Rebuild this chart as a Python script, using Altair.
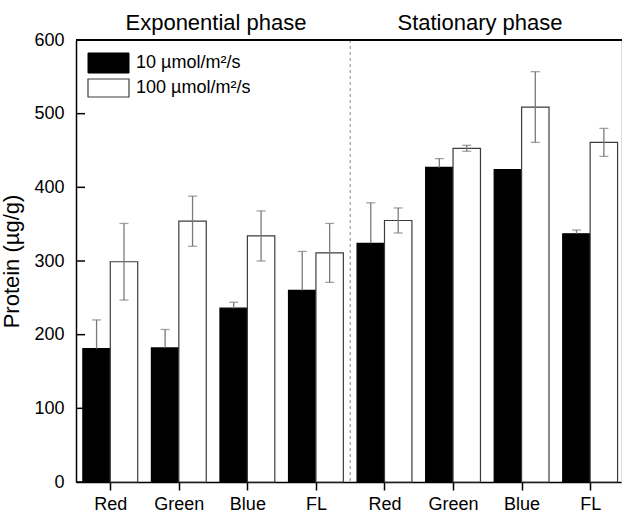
import altair as alt
import pandas as pd

# ---- data ----
categories = ["Red", "Green", "Blue", "FL"]
phases = ["Exponential phase", "Stationary phase"]
series = ["10 µmol/m²/s", "100 µmol/m²/s"]

low_exp = [181, 182, 236, 260]
low_exp_err = [39, 25, 8, 53]
low_sta = [324, 427, 424, 337]
low_sta_err = [55, 12, 0, 5]

high_exp = [299, 354, 334, 311]
high_exp_err = [52, 34, 34, 40]
high_sta = [355, 453, 509, 461]
high_sta_err = [17, 4, 48, 19]

y_ticks = [0, 100, 200, 300, 400, 500, 600]

FONT = "Liberation Sans"
W, H = 545, 442
BAR = 0.4

rows = []
for p, (lo, loe, hi, hie) in enumerate([
    (low_exp, low_exp_err, high_exp, high_exp_err),
    (low_sta, low_sta_err, high_sta, high_sta_err),
]):
    for c, cat in enumerate(categories):
        i = p * 4 + c
        rows.append(dict(idx=i, cat=cat, phase=phases[p], series=series[0],
                         v=lo[c], e=loe[c], x0=i - BAR, x1=i, xc=i - BAR / 2,
                         elo=lo[c], ehi=lo[c] + loe[c]))
        rows.append(dict(idx=i, cat=cat, phase=phases[p], series=series[1],
                         v=hi[c], e=hie[c], x0=i, x1=i + BAR, xc=i + BAR / 2,
                         elo=hi[c] - hie[c], ehi=hi[c] + hie[c]))
df = pd.DataFrame(rows)

label_expr = "[" + ",".join(f"'{c}'" for c in categories) + "][datum.value % 4]"

xscale = alt.Scale(domain=[-0.5, 7.45], nice=False, zero=False, padding=0)
yscale = alt.Scale(domain=[0, 600], nice=False, padding=0)

x_axis = alt.Axis(values=list(range(8)), labelExpr=label_expr, title=None,
                  grid=False, tickSize=8, tickWidth=1.5, tickColor="black",
                  domainColor="black", domainWidth=1.5, labelFontSize=18,
                  labelFont=FONT, labelColor="black", labelPadding=5)
y_axis = alt.Axis(values=y_ticks, title="Protein (µg/g)", grid=False,
                  ticks=False, domainColor="black", domainWidth=1.5,
                  labelFontSize=18, labelFont=FONT, labelColor="black",
                  labelPadding=12, titleFontSize=22, titleFont=FONT,
                  titleFontWeight="normal", titleColor="black", titlePadding=10)

base = alt.Chart(df)

bars = base.mark_bar(strokeWidth=1.2).encode(
    x=alt.X("x0:Q", scale=xscale, axis=x_axis),
    x2="x1:Q",
    y=alt.Y("v:Q", scale=yscale, axis=y_axis),
    y2=alt.datum(0),
    fill=alt.Fill("series:N", scale=alt.Scale(domain=series, range=["#000000", "#ffffff"]), legend=None),
    stroke=alt.Stroke("series:N", scale=alt.Scale(domain=series, range=["#000000", "#3c3c3c"]), legend=None),
)

err = base.transform_filter("datum.e > 0").mark_rule(color="#7a7a7a", strokeWidth=1.3).encode(
    x=alt.X("xc:Q", scale=xscale), y=alt.Y("elo:Q", scale=yscale), y2="ehi:Q"
)
cap_top = base.transform_filter("datum.e > 0").mark_tick(
    orient="horizontal", color="#7a7a7a", size=9, thickness=1.3
).encode(x=alt.X("xc:Q", scale=xscale), y=alt.Y("ehi:Q", scale=yscale))
cap_bot = base.transform_filter(f"datum.e > 0 && datum.series == '{series[1]}'").mark_tick(
    orient="horizontal", color="#7a7a7a", size=9, thickness=1.3
).encode(x=alt.X("xc:Q", scale=xscale), y=alt.Y("elo:Q", scale=yscale))

# dashed separator between the two phases
sep_df = pd.DataFrame({"xs": [3.5]})
sep = alt.Chart(sep_df).mark_rule(color="#8a8a8a", strokeDash=[3, 3], strokeWidth=1).encode(
    x=alt.X("xs:Q", scale=xscale), y=alt.value(0), y2=alt.value(H)
)

# inward y ticks
yt_df = pd.DataFrame({"t": y_ticks})
yt = alt.Chart(yt_df).mark_rule(color="black", strokeWidth=1.5).encode(
    y=alt.Y("t:Q", scale=yscale), x=alt.value(0), x2=alt.value(9)
)

# top frame line
top = alt.Chart(pd.DataFrame({"t": [600]})).mark_rule(color="black", strokeWidth=2).encode(
    y=alt.Y("t:Q", scale=yscale), x=alt.value(0), x2=alt.value(W + 2)
)

# phase titles
t1 = alt.Chart(pd.DataFrame({"s": [phases[0]]})).mark_text(
    font=FONT, fontSize=22, color="black", align="center", baseline="alphabetic"
).encode(text="s:N", x=alt.value(140), y=alt.value(-10))
t2 = alt.Chart(pd.DataFrame({"s": [phases[1]]})).mark_text(
    font=FONT, fontSize=22, color="black", align="center", baseline="alphabetic"
).encode(text="s:N", x=alt.value(404), y=alt.value(-10))

# manual legend
leg_black = alt.Chart(pd.DataFrame({"s": [series[0]]})).mark_rect(
    fill="black", stroke="black", strokeWidth=1
).encode(x=alt.value(12), x2=alt.value(53), y=alt.value(13), y2=alt.value(33))
leg_white = alt.Chart(pd.DataFrame({"s": [series[1]]})).mark_rect(
    fill="white", stroke="#3c3c3c", strokeWidth=1.2
).encode(x=alt.value(12), x2=alt.value(53), y=alt.value(39), y2=alt.value(57))
leg_t1 = alt.Chart(pd.DataFrame({"s": [series[0]]})).mark_text(
    font=FONT, fontSize=18, color="black", align="left", baseline="middle"
).encode(text="s:N", x=alt.value(60), y=alt.value(23))
leg_t2 = alt.Chart(pd.DataFrame({"s": [series[1]]})).mark_text(
    font=FONT, fontSize=18, color="black", align="left", baseline="middle"
).encode(text="s:N", x=alt.value(60), y=alt.value(48))

chart = alt.layer(
    bars, err, cap_top, cap_bot, sep, yt, top, t1, t2,
    leg_black, leg_white, leg_t1, leg_t2
).properties(
    width=W, height=H,
    autosize=alt.AutoSizeParams(type="none"),
    padding={"left": 76, "top": 40, "right": 1, "bottom": 32},
).configure_view(stroke=None).configure(background="white")

chart.save("out.html", embed_options={"renderer": "svg", "actions": False})
